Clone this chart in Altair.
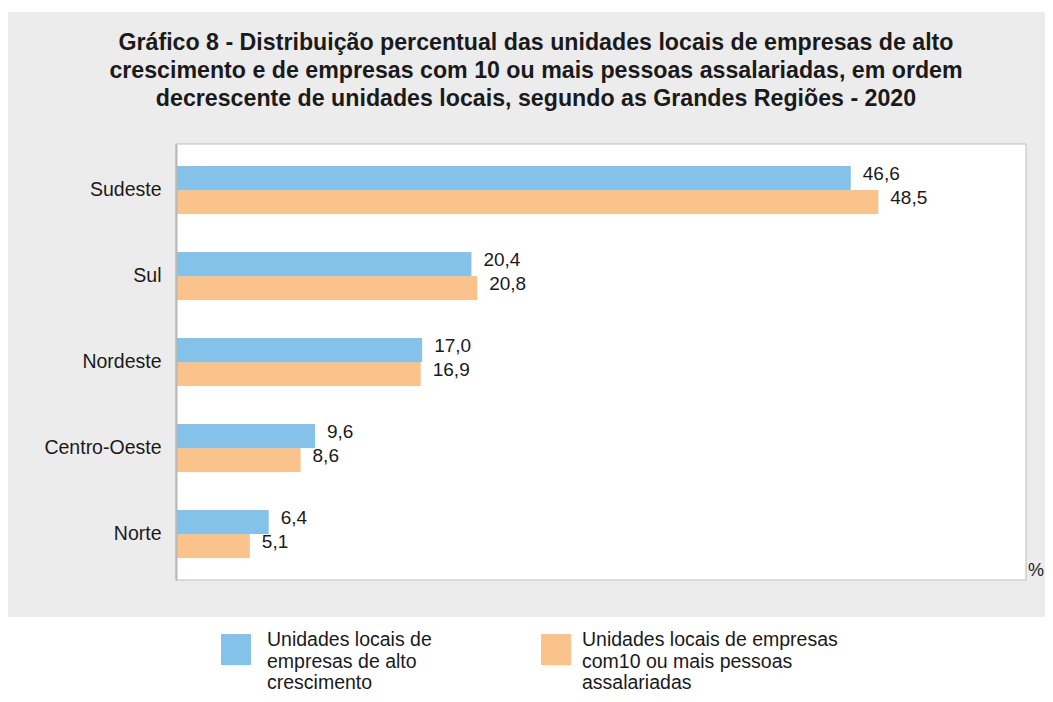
import altair as alt
import pandas as pd

regions = ["Sudeste", "Sul", "Nordeste", "Centro-Oeste", "Norte"]
alto_crescimento = [46.6, 20.4, 17.0, 9.6, 6.4]
dez_ou_mais = [48.5, 20.8, 16.9, 8.6, 5.1]
series = [
    "Unidades locais de|empresas de alto|crescimento",
    "Unidades locais de empresas|com10 ou mais pessoas|assalariadas",
]
colors = ["#85c2e9", "#f9c38b"]
title_lines = [
    "Gráfico 8 - Distribuição percentual das unidades locais de empresas de alto",
    "crescimento e de empresas com 10 ou mais pessoas assalariadas, em ordem",
    "decrescente de unidades locais, segundo as Grandes Regiões - 2020",
]
FONT = "Liberation Sans"
INK = "#1a1a1a"

rows = []
for r, a, b in zip(regions, alto_crescimento, dez_ou_mais):
    rows.append({"region": r, "series": series[0], "value": a, "label": f"{a:.1f}".replace(".", ",")})
    rows.append({"region": r, "series": series[1], "value": b, "label": f"{b:.1f}".replace(".", ",")})
df = pd.DataFrame(rows)

W, H = 850, 436

y_enc = alt.Y(
    "region:N",
    sort=regions,
    scale=alt.Scale(paddingInner=0.44, paddingOuter=0.256),
    axis=alt.Axis(
        title=None, ticks=False, labelFontSize=19.5, labelFont=FONT, labelColor=INK,
        labelPadding=15, domain=True, domainColor="#b8b8b8", domainWidth=2, zindex=1,
    ),
)
yoff = alt.YOffset("series:N", sort=series, scale=alt.Scale(paddingInner=0, paddingOuter=0))
x_enc = alt.X("value:Q", scale=alt.Scale(domain=[0, 58.7], nice=False, zero=True), axis=None)
color_scale = alt.Scale(domain=series, range=colors)

one = alt.Data(values=[{"k": 1}])

gray_panel = alt.Chart(one).mark_rect(color="#ececec").encode(
    x=alt.value(-168), x2=alt.value(869), y=alt.value(-132), y2=alt.value(473)
)
plot_frame = alt.Chart(one).mark_rect(fill="white", stroke="#bdbdbd", strokeWidth=1).encode(
    x=alt.value(0), x2=alt.value(W), y=alt.value(0), y2=alt.value(H)
)

bars = alt.Chart(df).mark_bar(size=24).encode(
    y=y_enc,
    yOffset=yoff,
    x=x_enc,
    color=alt.Color("series:N", sort=series, scale=color_scale, legend=None),
)

labels = alt.Chart(df).mark_text(
    align="left", baseline="middle", dx=12, dy=-4, fontSize=19, font=FONT, color=INK
).encode(y=y_enc, yOffset=yoff, x=x_enc, text="label:N")

pct = alt.Chart(one).mark_text(
    text="%", align="left", baseline="middle", fontSize=18, font=FONT, color=INK
).encode(x=alt.value(852), y=alt.value(427))

title = alt.Chart(one).mark_text(
    text=title_lines, align="center", baseline="alphabetic", fontSize=23.2, fontWeight="bold",
    font=FONT, color=INK, lineHeight=28,
).encode(x=alt.value(360), y=alt.value(-94))

legend_layers = []
for i, (name, gap) in enumerate(zip(series, [46, 41])):
    x0 = 45 + i * 320
    legend_layers.append(
        alt.Chart(one).mark_rect(color=colors[i]).encode(
            x=alt.value(x0), x2=alt.value(x0 + 30), y=alt.value(490), y2=alt.value(521)
        )
    )
    legend_layers.append(
        alt.Chart(one).mark_text(
            text=name.split("|"), align="left", baseline="alphabetic", fontSize=19.5,
            font=FONT, color=INK, lineHeight=21.5,
        ).encode(x=alt.value(x0 + gap), y=alt.value(502))
    )

chart = alt.layer(gray_panel, plot_frame, bars, labels, pct, title, *legend_layers).properties(
    width=W,
    height=H,
    autosize=alt.AutoSizeParams(type="none"),
    padding={"left": 168, "top": 136, "right": 19, "bottom": 114},
    background="white",
).configure_view(strokeWidth=0).configure(font=FONT)

chart.save("out.html", embed_options={"renderer": "svg", "actions": False})
